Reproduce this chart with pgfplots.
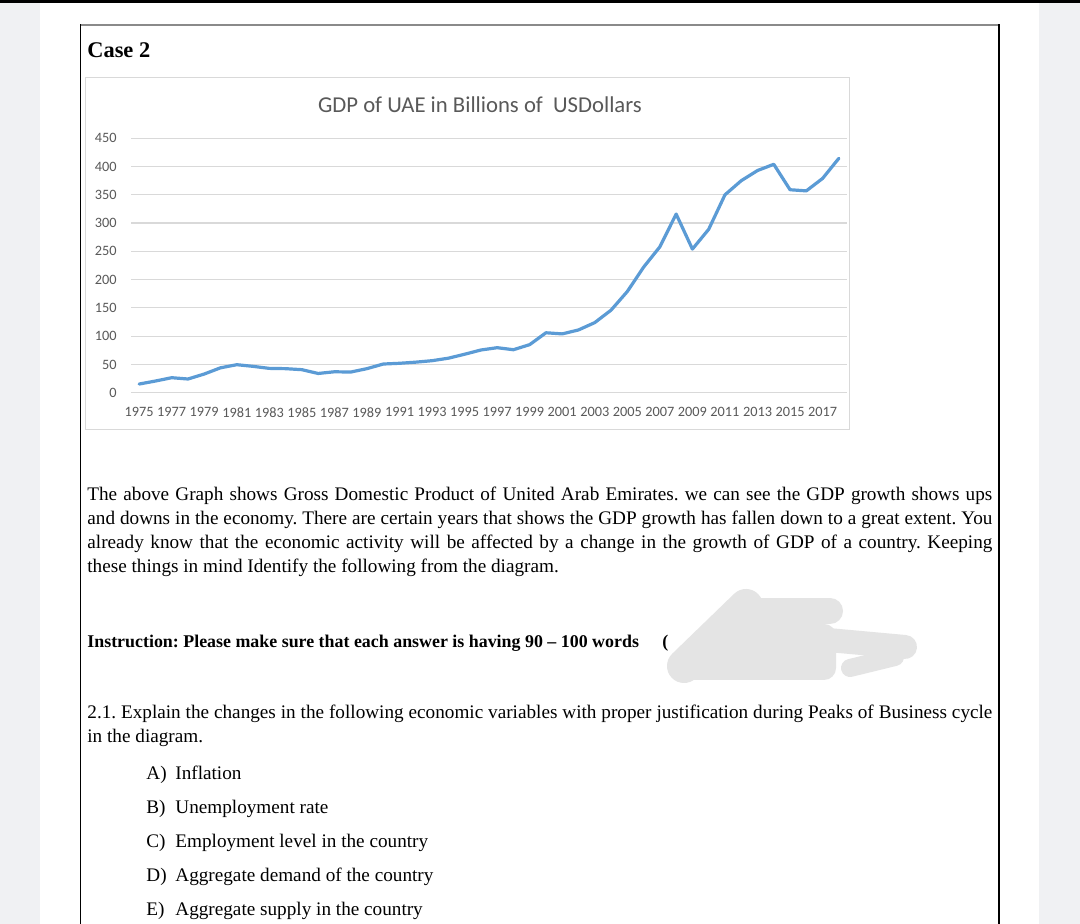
\documentclass[border=0pt]{standalone}
\usepackage{fontspec}
\setmainfont{Liberation Serif}
\newfontfamily\calibri{Carlito}
\usepackage{pgfplots}
\pgfplotsset{compat=1.18}
\definecolor{stripgrey}{HTML}{F0F1F3}
\definecolor{framegrey}{HTML}{8A8A8A}
\definecolor{boxgrey}{HTML}{D9D9D9}
\definecolor{gridgrey}{HTML}{D9D9D9}
\definecolor{tickgrey}{HTML}{595959}
\definecolor{lineblue}{HTML}{5B9BD5}
\definecolor{blobgrey}{HTML}{E4E4E4}

\pgfplotstableread{
year gdp
1975 15.3
1976 20.6
1977 26.5
1978 24.2
1979 33
1980 44
1981 49.5
1982 46.6
1983 43
1984 42.5
1985 40.7
1986 34
1987 37
1988 36.5
1989 42.5
1990 50.7
1991 52
1992 54
1993 56.6
1994 61
1995 68
1996 75.5
1997 79.6
1998 76
1999 85
2000 106
2001 104
2002 111
2003 124
2004 146
2005 179
2006 222
2007 258
2008 316
2009 254
2010 289
2011 350
2012 375
2013 393
2014 404
2015 359
2016 357
2017 379
2018 414.6
}\gdptable

\newcommand{\body}{\fontsize{9.6}{12}\selectfont\frenchspacing}

\begin{document}
\begin{tikzpicture}
\path[use as bounding box] (0,0) rectangle (540pt,462pt);
\fill[white] (0,0) rectangle (540pt,462pt);
\fill[stripgrey] (0,0) rectangle (20pt,460.35pt);
\fill[stripgrey] (519.5pt,0) rectangle (540pt,460.35pt);
\fill[black] (0,460.35pt) rectangle (540pt,462pt);
% page frame
\draw[framegrey, line width=1.2pt] (40.25pt,449.5pt) -- (499.5pt,449.5pt);
\draw[black, line width=0.7pt] (40.25pt,0) -- (40.25pt,449.8pt);
\draw[black, line width=0.7pt] (499.5pt,0) -- (499.5pt,449.8pt);
% heading
\node[anchor=base west, inner sep=0pt] at (43.5pt,433.2pt) {\fontsize{11.2}{13}\selectfont\bfseries Case 2};
% chart area
\draw[boxgrey, line width=0.5pt] (42.5pt,247pt) rectangle (424.5pt,423pt);
\node[inner sep=0pt, text=tickgrey] at (240pt,409.5pt) {\calibri\fontsize{11.35}{13}\selectfont GDP of UAE in Billions of\ \ USDollars};
\begin{axis}[
  at={(65.5pt,265.65pt)}, anchor=south west,
  scale only axis, width=358pt, height=127.2pt,
  xmin=1974.5, xmax=2018.5, ymin=0, ymax=450,
  xtick={1975,1977,...,2017}, ytick={0,50,...,450},
  axis line style={draw=none}, tick style={draw=none},
  ymajorgrids, grid style={color=gridgrey, line width=0.6pt},
  /pgf/number format/1000 sep={},
  /pgf/number format/assume math mode=true,
  tick label style={font=\calibri\fontsize{7.15}{8}\selectfont, text=tickgrey},
  xticklabel style={anchor=north, inner sep=0pt, yshift=-7.2pt},
  yticklabel style={anchor=east, inner sep=0pt, xshift=-7pt},
  clip=false,
]
\addplot[lineblue, line width=1.6pt, line join=round, line cap=round, mark=none] table[x=year, y=gdp] {\gdptable};
\end{axis}
% paragraph
\node[anchor=base west, inner sep=0pt] at (43.5pt,211.75pt) {\body\makebox[452.5pt][s]{The above Graph shows Gross Domestic Product of United Arab Emirates. we can see the GDP growth shows ups}};
\node[anchor=base west, inner sep=0pt] at (43.5pt,199.75pt) {\body\makebox[452.5pt][s]{and downs in the economy. There are certain years that shows the GDP growth has fallen down to a great extent. You}};
\node[anchor=base west, inner sep=0pt] at (43.5pt,187.75pt) {\body\makebox[452.5pt][s]{already know that the economic activity will be affected by a change in the growth of GDP of a country. Keeping}};
\node[anchor=base west, inner sep=0pt] at (43.5pt,175.75pt) {\body these things in mind Identify the following from the diagram.};
% instruction
\node[anchor=base west, inner sep=0pt] at (43.5pt,138pt) {\fontsize{8.95}{12}\selectfont\frenchspacing\bfseries Instruction: Please make sure that each answer is having 90 – 100 words};
% scribble
\begin{scope}[blobgrey, line cap=round, line join=round]
\draw[line width=17pt] (342pt,129pt) -- (373pt,159pt);
\draw[line width=13pt] (375pt,156.5pt) -- (415pt,156.5pt);
\fill[rounded corners=6pt] (338pt,122pt) -- (350pt,150pt) -- (418pt,150pt) -- (418pt,122pt) -- cycle;
\draw[line width=12pt] (414pt,142pt) -- (452.5pt,138.5pt);
\draw[line width=9pt] (425pt,128pt) -- (447.5pt,133.5pt);
\end{scope}
\node[anchor=base west, inner sep=0pt] at (331pt,138pt) {\fontsize{8.95}{12}\selectfont\bfseries (};
% question
\node[anchor=base west, inner sep=0pt] at (43.5pt,102.5pt) {\body\makebox[452.5pt][s]{2.1. Explain the changes in the following economic variables with proper justification during Peaks of Business cycle}};
\node[anchor=base west, inner sep=0pt] at (43.5pt,90.5pt) {\body in the diagram.};
\foreach \l/\t/\y in {A)/Inflation/72, B)/Unemployment rate/55, C)/Employment level in the country/38, D)/Aggregate demand of the country/21, E)/Aggregate supply in the country/4}{
  \node[anchor=base west, inner sep=0pt] at (73pt,\y pt) {\body \l};
  \node[anchor=base west, inner sep=0pt] at (87.5pt,\y pt) {\body \t};
}
\end{tikzpicture}
\end{document}
